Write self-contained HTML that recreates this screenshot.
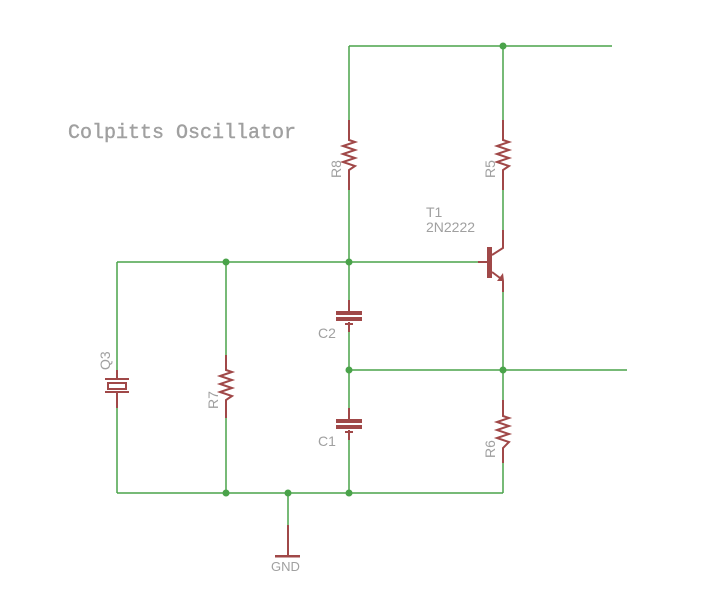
<!DOCTYPE html>
<html><head><style>body{margin:0;background:#fff}svg{display:block}</style></head><body>
<svg width="717" height="595" xmlns="http://www.w3.org/2000/svg" font-family="Liberation Sans, sans-serif">
<g stroke="#4aa34a" stroke-width="1.5" fill="none">
<path d="M349 46H612M349 46V138M503 46V138M349 172V300M503 172V248M503 290V400M349 262H487M117 262H349M117 262V370M117 408V493M117 493H503M503 463V493M349 330V410M349 440V493M349 370H627M226 262V355M226 418V493M288 493V540"/>
</g>
<g fill="#4aa34a">
<circle cx="503" cy="46" r="3.5"/><circle cx="226" cy="262" r="3.5"/><circle cx="349" cy="262" r="3.5"/>
<circle cx="349" cy="370" r="3.5"/><circle cx="503" cy="370" r="3.5"/><circle cx="226" cy="493" r="3.5"/>
<circle cx="288" cy="493" r="3.5"/><circle cx="349" cy="493" r="3.5"/>
</g>
<g stroke="#a04848" stroke-width="2" fill="none">
<path d="M349 120V140L355 142L343 146L355 150L343 154L355 158L343 162L355 166L349 170V190"/>
<path d="M503 120V140L509 142L497 146L509 150L497 154L509 158L497 162L509 166L503 170V190"/>
<path d="M503 400V416L509 418L497 422L509 426L497 430L509 434L497 438L509 442L503 448V463"/>
<path d="M226 355V370L232 372L220 376L232 380L220 384L232 388L220 392L232 396L226 400V418"/>
<path d="M487 262H478M492 255L503 248V230M492 272L500 278M503 281V292"/>
<path d="M349 300V311M349 322V332M345 324H353"/>
<path d="M349 408V419M349 430V440M345 432H353"/>
<path d="M117 370V379M117 392V408"/>
<rect x="108" y="383" width="18" height="6"/>
<path d="M288 525V556"/>
</g>
<g fill="#a04848">
<rect x="487" y="247" width="5" height="31"/>
<polygon points="497,281 504,281 503,273"/>
<rect x="336" y="311" width="26" height="4"/><rect x="336" y="317" width="26" height="4"/>
<rect x="336" y="419" width="26" height="4"/><rect x="336" y="425" width="26" height="4"/>
<rect x="105" y="378" width="24" height="2"/><rect x="105" y="391" width="24" height="2"/>
<rect x="275" y="555" width="25" height="2.5"/>
</g>
<g fill="#a0a0a0" font-size="14">
<text x="68" y="138" font-family="Liberation Mono, monospace" font-size="20" fill="#a0a0a0" stroke="#a0a0a0" stroke-width="0.4">Colpitts Oscillator</text>
<text x="426" y="217">T1</text>
<text x="426" y="232">2N2222</text>
<text x="318" y="338">C2</text>
<text x="318" y="446">C1</text>
<text x="271" y="571" font-size="13">GND</text>
<text transform="translate(341,178) rotate(-90)">R8</text>
<text transform="translate(495,178) rotate(-90)">R5</text>
<text transform="translate(495,458) rotate(-90)">R6</text>
<text transform="translate(218,409) rotate(-90)">R7</text>
<text transform="translate(110,370) rotate(-90)">Q3</text>
</g>
</svg>
</body></html>
